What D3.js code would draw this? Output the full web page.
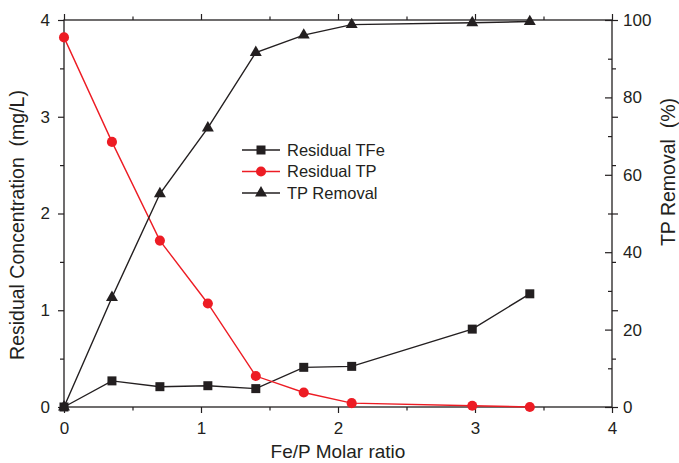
<!DOCTYPE html>
<html>
<head>
<meta charset="utf-8">
<script src="https://cdn.jsdelivr.net/npm/d3@7"></script>
<style>
  body { margin: 0; background: #fff; }
  svg { display: block; font-family: Arial, "Liberation Sans", sans-serif; }
</style>
</head>
<body>
<div class="canvas"></div>
<script>
// Fe/P molar ratio
const ratio = [0, 0.35, 0.7, 1.05, 1.4, 1.75, 2.1, 2.98, 3.4];
// residual concentrations, mg/L (left axis)
const residualTFe = [0, 0.27, 0.21, 0.22, 0.19, 0.41, 0.42, 0.805, 1.17];
const residualTP = [3.82, 2.74, 1.72, 1.07, 0.32, 0.15, 0.04, 0.013, 0.0];
// TP removal, % (right axis)
const tpRemoval = [0, 28.3, 55.1, 72.1, 91.6, 96.1, 98.8, 99.3, 99.6];

const xTicks = [0, 1, 2, 3, 4];
const xMinor = [0.5, 1.5, 2.5, 3.5];
const yLeftTicks = [0, 1, 2, 3, 4];
const yLeftMinor = [0.5, 1.5, 2.5, 3.5];
const yRightTicks = [0, 20, 40, 60, 80, 100];
const yRightMinor = [10, 30, 50, 70, 90];

const svgWidth = 679;
const svgHeight = 463;
const margin = { top: 20, right: 67, bottom: 56, left: 64 };
const chartWidth = svgWidth - margin.left - margin.right;
const chartHeight = svgHeight - margin.top - margin.bottom;

const black = '#231f20';
const red = '#ed1c24';

const svg = d3.select('.canvas').append('svg')
  .attr('width', svgWidth)
  .attr('height', svgHeight);

const chart = svg.append('g').attr('transform', `translate(${margin.left}, ${margin.top})`);

const xScale = d3.scaleLinear().domain([0, 4]).range([0, chartWidth]);
const yLeft = d3.scaleLinear().domain([0, 4]).range([chartHeight, 0]);
const yRight = d3.scaleLinear().domain([0, 100]).range([chartHeight, 0]);

// axes: major + minor ticks, no domain path (frame drawn separately)
function addAxis(axis, transform, cls) {
  const g = chart.append('g').attr('class', cls).attr('transform', transform).call(axis);
  g.select('.domain').remove();
  g.selectAll('line').attr('stroke', black).attr('stroke-width', 1.2);
  g.selectAll('text').attr('fill', black).attr('font-size', '17px').attr('font-family', 'Arial, "Liberation Sans", sans-serif');
  return g;
}

const noLabel = () => '';

// bottom
addAxis(d3.axisBottom(xScale).tickValues(xTicks).tickSize(6).tickPadding(9).tickFormat(d3.format('d')), `translate(0, ${chartHeight})`, 'x-axis');
addAxis(d3.axisBottom(xScale).tickValues(xMinor).tickSize(3.5).tickFormat(noLabel), `translate(0, ${chartHeight})`, 'x-minor');
// top mirror
addAxis(d3.axisTop(xScale).tickValues(xTicks).tickSize(6).tickFormat(noLabel), 'translate(0, 0)', 'x-top');
addAxis(d3.axisTop(xScale).tickValues(xMinor).tickSize(3.5).tickFormat(noLabel), 'translate(0, 0)', 'x-top-minor');
// left
addAxis(d3.axisLeft(yLeft).tickValues(yLeftTicks).tickSize(6).tickPadding(8).tickFormat(d3.format('d')), 'translate(0, 0)', 'y-axis');
addAxis(d3.axisLeft(yLeft).tickValues(yLeftMinor).tickSize(4).tickFormat(noLabel), 'translate(0, 0)', 'y-minor');
// right side: left-axis mirror ticks pointing out
addAxis(d3.axisRight(yLeft).tickValues(yLeftTicks).tickSize(6).tickFormat(noLabel), `translate(${chartWidth}, 0)`, 'y-mirror');
addAxis(d3.axisRight(yLeft).tickValues(yLeftMinor).tickSize(4).tickFormat(noLabel), `translate(${chartWidth}, 0)`, 'y-mirror-minor');
// right axis: ticks pointing in
addAxis(d3.axisRight(yRight).tickValues(yRightTicks).tickSizeInner(-7).tickSizeOuter(0).tickPadding(11).tickFormat(d3.format('d')), `translate(${chartWidth}, 0)`, 'y2-axis');
addAxis(d3.axisRight(yRight).tickValues(yRightMinor).tickSizeInner(-4).tickSizeOuter(0).tickFormat(noLabel), `translate(${chartWidth}, 0)`, 'y2-minor');

// frame
chart.append('rect')
  .attr('x', 0).attr('y', 0)
  .attr('width', chartWidth).attr('height', chartHeight)
  .attr('fill', 'none')
  .attr('stroke', black)
  .attr('stroke-width', 1.3);

// series
const series = [
  { name: 'Residual TFe', values: residualTFe, y: yLeft, color: black, symbol: d3.symbolSquare, size: 81 },
  { name: 'Residual TP', values: residualTP, y: yLeft, color: red, symbol: d3.symbolCircle, size: 80 },
  { name: 'TP Removal', values: tpRemoval, y: yRight, color: black, symbol: d3.symbolTriangle, size: 62 }
];

series.forEach((s) => {
  const pts = ratio.map((r, i) => [xScale(r), s.y(s.values[i])]);
  chart.append('path')
    .attr('d', d3.line()(pts))
    .attr('fill', 'none')
    .attr('stroke', s.color)
    .attr('stroke-width', 1.4);
  chart.selectAll(null)
    .data(pts)
    .enter()
    .append('path')
    .attr('transform', (d) => `translate(${d[0]}, ${d[1]})`)
    .attr('d', d3.symbol(s.symbol, s.size)())
    .attr('fill', s.color);
});

// legend
const legend = svg.append('g').attr('transform', 'translate(242, 150)');
series.forEach((s, i) => {
  const row = legend.append('g').attr('transform', `translate(0, ${i * 21.5})`);
  row.append('line')
    .attr('x1', 0).attr('x2', 38)
    .attr('stroke', s.color)
    .attr('stroke-width', 1.4);
  row.append('path')
    .attr('transform', 'translate(19, 0)')
    .attr('d', d3.symbol(s.symbol, s.size)())
    .attr('fill', s.color);
  row.append('text')
    .attr('x', 45)
    .attr('dy', '0.35em')
    .attr('fill', black)
    .attr('font-size', '16.5px')
    .text(s.name);
});

// axis titles
svg.append('text')
  .attr('x', margin.left + chartWidth / 2)
  .attr('y', 458)
  .attr('text-anchor', 'middle')
  .attr('fill', black)
  .attr('font-size', '19px')
  .text('Fe/P Molar ratio');

svg.append('text')
  .attr('transform', 'translate(24, 225) rotate(-90)')
  .attr('text-anchor', 'middle')
  .attr('fill', black)
  .attr('font-size', '19.5px')
  .style('white-space', 'pre')
  .text('Residual Concentration  (mg/L)');

svg.append('text')
  .attr('transform', 'translate(675, 172) rotate(-90)')
  .attr('text-anchor', 'middle')
  .attr('fill', black)
  .attr('font-size', '19.5px')
  .style('white-space', 'pre')
  .text('TP Removal  (%)');
</script>
</body>
</html>
